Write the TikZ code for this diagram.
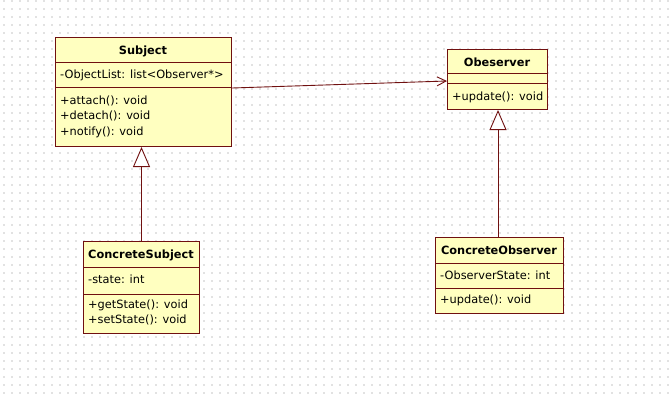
\documentclass[tikz,border=0pt]{standalone}
\usepackage{fontspec}
\setmainfont{DejaVu Sans}
\usetikzlibrary{arrows.meta}
\definecolor{umlfill}{HTML}{FFFFC0}
\definecolor{umlline}{HTML}{701010}
\definecolor{dotc}{HTML}{E2E2E2}
\begin{document}
\begin{tikzpicture}[x=1bp,y=-1bp,
  cls/.style={draw=umlline, fill=umlfill, line width=1bp, inner sep=0, anchor=north west},
  lbl/.style={anchor=base west, inner sep=0, font=\fontsize{11.4}{13}\selectfont, text=black},
  ttl/.style={anchor=base, inner sep=0, font=\fontsize{11.4}{13}\selectfont\bfseries, text=black},
  divider/.style={draw=umlline, line width=1bp},
  assoc/.style={draw=umlline, line width=0.9bp, -{Straight Barb[length=9bp, width=9bp]}},
  gen/.style={draw=umlline, line width=0.9bp, -{Triangle[length=20bp, width=17bp, fill=white]}}]
\useasboundingbox (0,0) rectangle (671,401);
\fill[white] (0,0) rectangle (671,401);
\foreach \x in {4,12,...,668}
  \foreach \y in {1,9,...,400}
    \fill[dotc] (\x-0.7,\y-0.7) rectangle ++(1.4,1.4);

% Subject
\node[cls, minimum width=176bp, minimum height=109bp] (subject) at (55,37) {};
\draw[divider] (subject.west |- 0,62) -- (subject.east |- 0,62);
\draw[divider] (subject.west |- 0,87) -- (subject.east |- 0,87);
\node[ttl] (subjectT) at (143,54) {Subject};
\node[lbl] (subjectA) at (60,78.5) {-ObjectList: list<Observer*>};
\node[lbl] (subjectO1) at (60,104) {+attach(): void};
\node[lbl] (subjectO2) at (60,119.5) {+detach(): void};
\node[lbl] (subjectO3) at (60,135) {+notify(): void};

% Obeserver
\node[cls, minimum width=100bp, minimum height=60bp] (obs) at (447,49) {};
\draw[divider] (obs.west |- 0,73) -- (obs.east |- 0,73);
\draw[divider] (obs.west |- 0,83) -- (obs.east |- 0,83);
\node[ttl] (obsT) at (497,66) {Obeserver};
\node[lbl] (obsO1) at (452,100) {+update(): void};

% ConcreteSubject
\node[cls, minimum width=116bp, minimum height=92bp] (csub) at (83,241) {};
\draw[divider] (csub.west |- 0,267) -- (csub.east |- 0,267);
\draw[divider] (csub.west |- 0,294) -- (csub.east |- 0,294);
\node[ttl] (csubT) at (141,258) {ConcreteSubject};
\node[lbl] (csubA) at (88,283) {-state: int};
\node[lbl] (csubO1) at (88,308) {+getState(): void};
\node[lbl] (csubO2) at (88,323.5) {+setState(): void};

% ConcreteObserver
\node[cls, minimum width=128bp, minimum height=76bp] (cobs) at (435,237) {};
\draw[divider] (cobs.west |- 0,263) -- (cobs.east |- 0,263);
\draw[divider] (cobs.west |- 0,288) -- (cobs.east |- 0,288);
\node[ttl] (cobsT) at (499,254) {ConcreteObserver};
\node[lbl] (cobsA) at (440,279) {-ObserverState: int};
\node[lbl] (cobsO1) at (440,303.5) {+update(): void};

% connectors
\draw[assoc] (subject.east |- 0,88) -- (obs.west |- 0,81);
\draw[gen] (csub.north) -- (csub.north |- subject.south);
\draw[gen] (cobs.north -| 498,0) -- (498,0 |- obs.south);
\end{tikzpicture}
\end{document}
